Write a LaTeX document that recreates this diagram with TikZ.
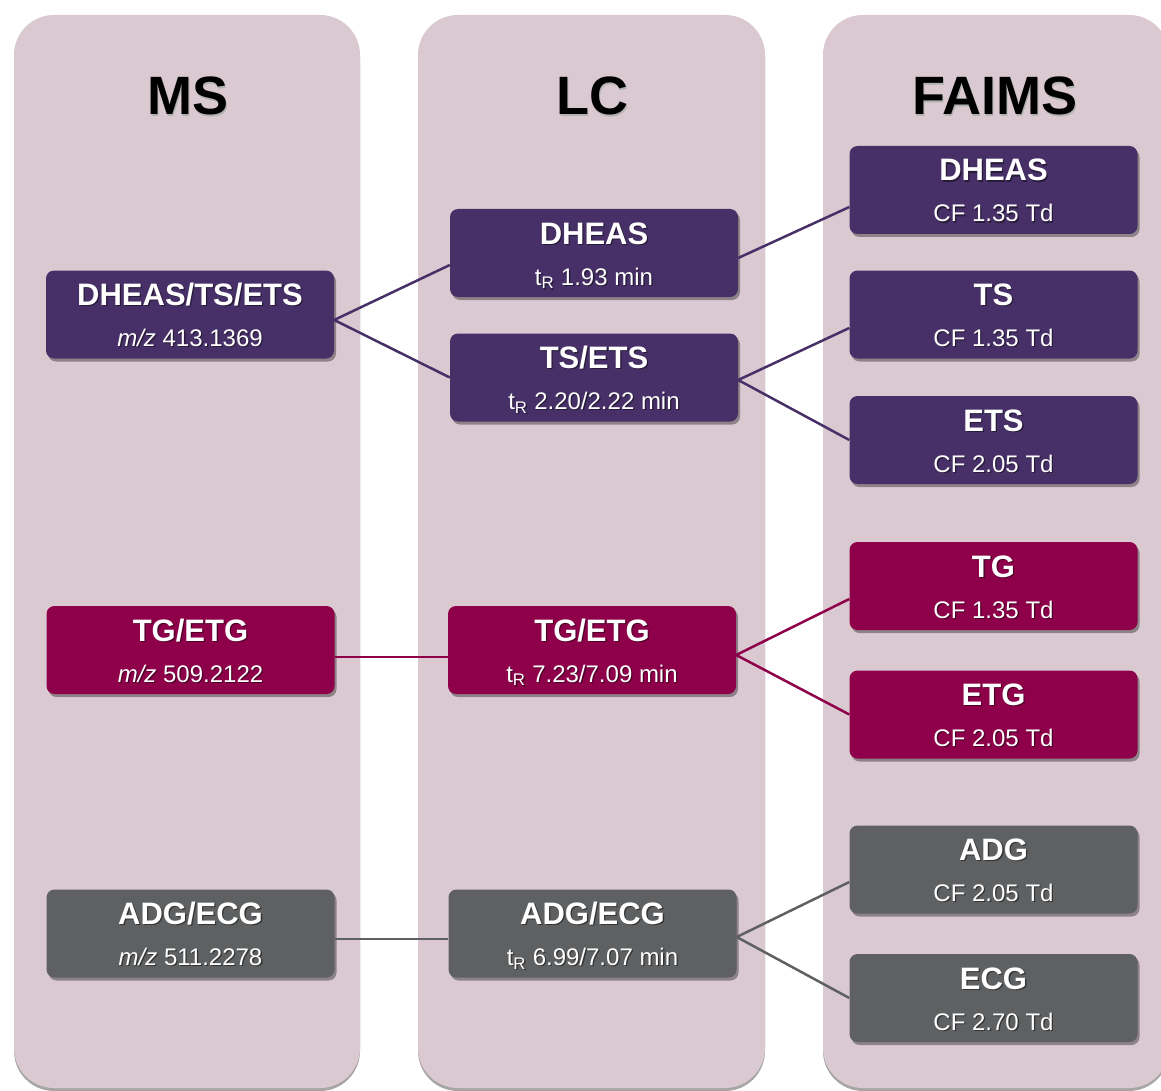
\documentclass[tikz,border=0pt]{standalone}
\usepackage{fontspec}
\setmainfont{Liberation Sans}
\usetikzlibrary{shadows}
\definecolor{colbg}{RGB}{218,201,208}
\definecolor{cpur}{RGB}{71,48,103}
\definecolor{cmag}{RGB}{142,0,74}
\definecolor{cgry}{RGB}{95,96,98}
\newcommand\shtxt[2]{\rlap{\kern1.3pt\raisebox{-1.3pt}{\textcolor{#1}{#2}}}#2}
\tikzset{
  colbox/.style={fill=colbg, rounded corners=40pt, drop shadow={shadow xshift=0pt, shadow yshift=-3pt, opacity=0.35, fill=black}},
  gbox/.style={rounded corners=8pt, minimum width=288pt, minimum height=88pt, inner sep=0pt,
     drop shadow={shadow xshift=2pt, shadow yshift=-3pt, opacity=0.35, fill=black}},
  pbox/.style={gbox, fill=cpur},
  mbox/.style={gbox, fill=cmag},
  ybox/.style={gbox, fill=cgry},
  coltitle/.style={font=\fontsize{54}{60}\selectfont\bfseries, text=black, anchor=base},
  btitle/.style={font=\fontsize{31}{36}\selectfont\bfseries, text=white, anchor=base, inner sep=0pt},
  bsub/.style={font=\fontsize{24}{28}\selectfont, text=white, anchor=base, inner sep=0pt},
  pline/.style={draw=cpur, line width=2.5pt},
  mline/.style={draw=cmag, line width=2.5pt},
  yline/.style={draw=cgry, line width=2.5pt},
}
\newcommand\boxtext[4]{%
  \node[btitle] (#1t) at ([yshift=9pt]#1.center) {\shtxt{#2}{#3}};
  \node[bsub] (#1s) at ([yshift=-32pt]#1.center) {\shtxt{#2}{#4}};}
\begin{document}
\begin{tikzpicture}[x=1pt,y=-1pt]
\useasboundingbox (0,0) rectangle (1161,1091);
\begin{scope}
\clip (0,0) rectangle (1161,1091);
\path[colbox] (14,15) rectangle (360,1088);
\path[colbox] (418,15) rectangle (765,1088);
\path[colbox] (823,15) rectangle (1169,1088);
\end{scope}
\node[coltitle] (tms) at (188,115) {\shtxt{black!30}{MS}};
\node[coltitle] (tlc) at (592,115) {\shtxt{black!30}{LC}};
\node[coltitle] (tfa) at (995,115) {\shtxt{black!30}{FAIMS}};
% MS
\node[pbox] (ms1) at (190,314.5) {};
\node[mbox] (ms2) at (190.5,650) {};
\node[ybox] (ms3) at (190.5,933.5) {};
% LC
\node[pbox] (lc1) at (594,253) {};
\node[pbox] (lc2) at (594,377.5) {};
\node[mbox] (lc3) at (592,650) {};
\node[ybox] (lc4) at (592.5,933.5) {};
% FAIMS
\node[pbox] (fa1) at (993.5,190) {};
\node[pbox] (fa2) at (993.5,314.5) {};
\node[pbox] (fa3) at (993.5,440) {};
\node[mbox] (fa4) at (993.5,586) {};
\node[mbox] (fa5) at (993.5,714.5) {};
\node[ybox] (fa6) at (993.5,869.5) {};
\node[ybox] (fa7) at (993.5,998) {};
% connectors
\draw[pline] ([yshift=-5.5pt]ms1.east) -- ([yshift=-12pt]lc1.west);
\draw[pline] ([yshift=-5.5pt]ms1.east) -- (lc2.west);
\draw[pline] ([yshift=-5pt]lc1.east) -- ([yshift=-17pt]fa1.west);
\draw[pline] ([yshift=-2.5pt]lc2.east) -- ([yshift=-13.5pt]fa2.west);
\draw[pline] ([yshift=-2.5pt]lc2.east) -- (fa3.west);
\draw[mline] ([yshift=-7pt]ms2.east) -- ([yshift=-7pt]lc3.west);
\draw[mline] ([yshift=-5pt]lc3.east) -- ([yshift=-13pt]fa4.west);
\draw[mline] ([yshift=-5pt]lc3.east) -- (fa5.west);
\draw[yline] ([yshift=-5.5pt]ms3.east) -- ([yshift=-5.5pt]lc4.west);
\draw[yline] ([yshift=-3.5pt]lc4.east) -- ([yshift=-12.5pt]fa6.west);
\draw[yline] ([yshift=-3.5pt]lc4.east) -- (fa7.west);
% texts
\boxtext{ms1}{cpur!55!black}{DHEAS/TS/ETS}{\textit{m/z} 413.1369}
\boxtext{ms2}{cmag!55!black}{TG/ETG}{\textit{m/z} 509.2122}
\boxtext{ms3}{cgry!55!black}{ADG/ECG}{\textit{m/z} 511.2278}
\boxtext{lc1}{cpur!55!black}{DHEAS}{t\textsubscript{R} 1.93 min}
\boxtext{lc2}{cpur!55!black}{TS/ETS}{t\textsubscript{R} 2.20/2.22 min}
\boxtext{lc3}{cmag!55!black}{TG/ETG}{t\textsubscript{R} 7.23/7.09 min}
\boxtext{lc4}{cgry!55!black}{ADG/ECG}{t\textsubscript{R} 6.99/7.07 min}
\boxtext{fa1}{cpur!55!black}{DHEAS}{CF 1.35 Td}
\boxtext{fa2}{cpur!55!black}{TS}{CF 1.35 Td}
\boxtext{fa3}{cpur!55!black}{ETS}{CF 2.05 Td}
\boxtext{fa4}{cmag!55!black}{TG}{CF 1.35 Td}
\boxtext{fa5}{cmag!55!black}{ETG}{CF 2.05 Td}
\boxtext{fa6}{cgry!55!black}{ADG}{CF 2.05 Td}
\boxtext{fa7}{cgry!55!black}{ECG}{CF 2.70 Td}
\end{tikzpicture}
\end{document}
